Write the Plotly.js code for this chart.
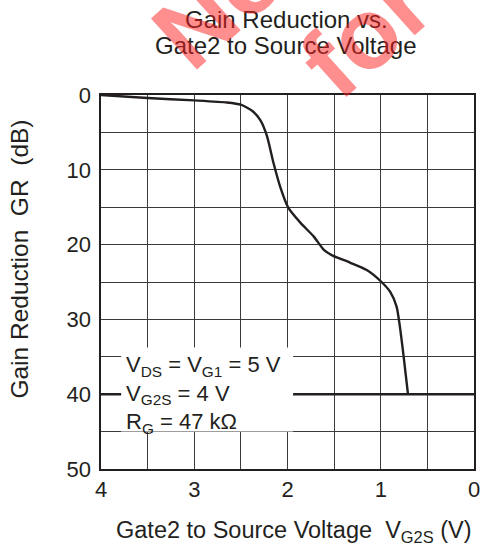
<!DOCTYPE html>
<html>
<head>
<meta charset="utf-8">
<script src="https://cdn.plot.ly/plotly-3.0.1.min.js"></script>
<style>html,body{margin:0;padding:0;background:#fff;}#chart{width:480px;height:550px;}</style>
</head>
<body>
<div id="chart"></div>
<script>
// Gate2-to-source voltage (V) and gain reduction (dB)
const vg2s = [4.0, 3.5, 3.0, 2.65, 2.5, 2.37, 2.29, 2.22, 2.15, 2.08, 1.99, 1.86, 1.72, 1.61, 1.51, 1.33, 1.15, 1.0, 0.9, 0.83, 0.80, 0.755, 0.708];
const gainReduction = [0, 0.4, 0.72, 1.0, 1.3, 2.2, 3.4, 5.5, 9.1, 12.2, 15.1, 17.1, 18.9, 20.7, 21.5, 22.4, 23.4, 24.9, 26.3, 28.3, 30.5, 34.9, 40];
const xTicks = [4, 3, 2, 1, 0];
const yTicks = [0, 10, 20, 30, 40, 50];
const titleLines = ["Gain Reduction vs.", "Gate2 to Source Voltage"];
const conditions = ["V<sub>DS</sub> = V<sub>G1</sub> = 5 V", "V<sub>G2S</sub> = 4 V", "R<sub>G</sub> = 47 kΩ"];
const markerLevel = 40;

const FONT = "Liberation Sans, Arial, Helvetica, sans-serif";
const INK = "#231f20";
const GRID = "#3a3a3a";
const WATER = "rgba(255,30,30,0.5)";

const trace = {
  x: vg2s, y: gainReduction, type: "scatter", mode: "lines",
  line: {color: INK, width: 2.4, shape: "spline", smoothing: 0.6},
  hoverinfo: "skip"
};

const layout = {
  width: 480, height: 550,
  margin: {l: 101, r: 6, t: 95, b: 81},
  paper_bgcolor: "#fff", plot_bgcolor: "#fff",
  font: {family: FONT, color: INK, size: 22},
  showlegend: false,
  xaxis: {
    range: [4, 0], tickvals: xTicks, ticktext: xTicks.map(String),
    showgrid: true, gridcolor: GRID, gridwidth: 1,
    minor: {dtick: 0.5, showgrid: true, gridcolor: GRID, gridwidth: 1, ticks: ""},
    ticks: "", ticklabelstandoff: 0, ticklabeloverflow: "allow",
    showline: true, mirror: true, linecolor: INK, linewidth: 1.6,
    zeroline: false, tickfont: {size: 22, family: FONT, color: INK}
  },
  yaxis: {
    range: [50, 0], tickvals: yTicks, ticktext: yTicks.map(String),
    showgrid: true, gridcolor: GRID, gridwidth: 1,
    minor: {dtick: 5, showgrid: true, gridcolor: GRID, gridwidth: 1, ticks: ""},
    ticks: "", ticklabelstandoff: 4, ticklabeloverflow: "allow",
    showline: true, mirror: true, linecolor: INK, linewidth: 1.6,
    zeroline: false, tickfont: {size: 22, family: FONT, color: INK}
  },
  shapes: [
    {type: "line", xref: "paper", x0: 0, x1: 1, yref: "y", y0: markerLevel, y1: markerLevel,
     line: {color: INK, width: 2.4}, layer: "above"},
    {type: "rect", xref: "paper", x0: 0.054, x1: 0.515, yref: "paper", y0: 0.1, y1: 0.325,
     fillcolor: "#fff", line: {width: 0}, layer: "above"}
  ],
  annotations: [
    {text: titleLines[0], xref: "paper", yref: "paper", x: 0.496, y: 1.2024,
     xanchor: "center", yanchor: "middle", showarrow: false,
     font: {family: FONT, size: 24, color: INK}},
    {text: titleLines[1], xref: "paper", yref: "paper", x: 0.496, y: 1.1329,
     xanchor: "center", yanchor: "middle", showarrow: false,
     font: {family: FONT, size: 24, color: INK}},
    {text: conditions.join("<br>"), xref: "paper", yref: "paper", x: 0.063, y: 0.198,
     xanchor: "left", yanchor: "middle", align: "left", showarrow: false,
     font: {family: FONT, size: 22, color: INK}},
    {text: "Gain Reduction&nbsp;&nbsp;GR&nbsp;&nbsp;(dB)", xref: "paper", yref: "paper",
     x: -0.217, y: 0.56, xanchor: "center", yanchor: "middle", textangle: -90, showarrow: false,
     font: {family: FONT, size: 24.5, color: INK}},
    {text: "Gate2 to Source Voltage&nbsp;&nbsp;V<sub>G2S</sub> (V)", xref: "paper", yref: "paper",
     x: 0.517, y: -0.168, xanchor: "center", yanchor: "middle", showarrow: false,
     font: {family: FONT, size: 23.5, color: INK}},
    {text: "<b>Not</b>", xref: "paper", yref: "paper", x: 0.348, y: 1.276,
     xanchor: "center", yanchor: "middle", textangle: -42, showarrow: false,
     font: {family: FONT, size: 100, color: WATER}},
    {text: "<b>for</b>", xref: "paper", yref: "paper", x: 0.708, y: 1.166,
     xanchor: "center", yanchor: "middle", textangle: -42, showarrow: false,
     font: {family: FONT, size: 100, color: WATER}}
  ]
};

Plotly.newPlot("chart", [trace], layout, {staticPlot: true, displayModeBar: false});
</script>
</body>
</html>
